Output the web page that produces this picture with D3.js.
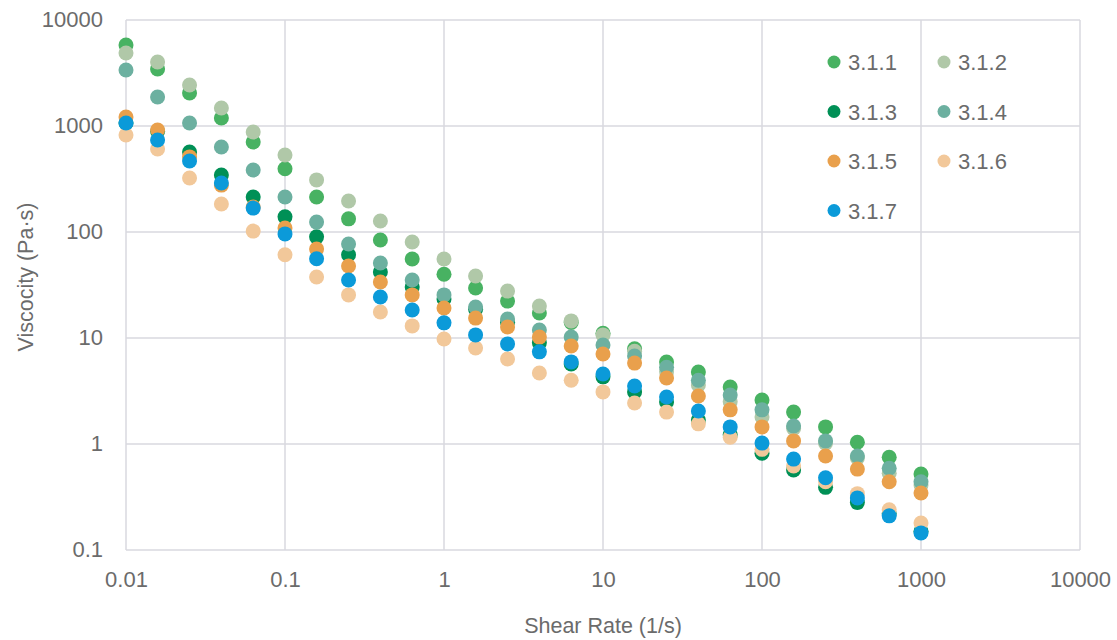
<!DOCTYPE html>
<html lang="en">
<head>
  <meta charset="UTF-8">
  <title>Viscosity vs Shear Rate</title>
  <script src="https://d3js.org/d3.v7.min.js"></script>
  <style>
    body { margin: 0; background: #fff; }
    text { font-family: "Liberation Sans", Arial, sans-serif; fill: #6b6b6b; }
  </style>
</head>
<body>
<div id="chart"></div>
<script>
// shear rate (1/s), 5 points per decade
const shearRate = [0.01, 0.0158, 0.0251, 0.0398, 0.0631, 0.1, 0.158, 0.251, 0.398, 0.631,
  1, 1.58, 2.51, 3.98, 6.31, 10, 15.8, 25.1, 39.8, 63.1, 100, 158, 251, 398, 631, 1000];

// viscosity (Pa·s) per sample
const s311 = [5810, 3450, 2050, 1190, 706, 395, 214, 133, 84, 55.6, 40, 29.6, 22.3, 17.2, 14, 11.1, 7.9, 5.94, 4.78, 3.45, 2.6, 2.0, 1.45, 1.04, 0.75, 0.52];
const s312 = [4890, 4020, 2440, 1480, 877, 532, 310, 196, 127, 80.5, 55.6, 38.5, 27.7, 20, 14.5, 10.7, 7.5, 4.8, 3.6, 2.5, 1.8, 1.4, 1.02, 0.74, 0.53, 0.41];
const s313 = [1067, 890, 569, 345, 214, 139, 90, 61, 42, 30.3, 23.3, 18.7, 14.1, 9.0, 5.7, 4.3, 3.1, 2.49, 1.68, 1.22, 0.82, 0.57, 0.39, 0.28, 0.22, 0.15];
const s314 = [3370, 1880, 1067, 634, 385, 214, 124, 77, 51, 35.2, 25.5, 19.6, 15.1, 11.9, 10.2, 8.6, 6.76, 5.3, 4.0, 2.9, 2.1, 1.48, 1.07, 0.77, 0.59, 0.44];
const s315 = [1217, 916, 511, 277, 172, 109, 69, 47.8, 33.8, 25.5, 19.2, 15.4, 12.7, 10.2, 8.4, 7.06, 5.8, 4.2, 2.84, 2.1, 1.45, 1.07, 0.77, 0.58, 0.44, 0.345];
const s316 = [822, 607, 323, 184, 102, 61, 37.6, 25.5, 17.6, 13.0, 9.8, 8.05, 6.34, 4.68, 4.0, 3.1, 2.44, 2.0, 1.55, 1.16, 0.89, 0.62, 0.44, 0.34, 0.24, 0.18];
const s317 = [1067, 738, 468, 290, 168, 96, 56, 35.2, 24.4, 18.4, 13.9, 10.7, 8.8, 7.4, 5.95, 4.57, 3.52, 2.78, 2.05, 1.45, 1.02, 0.72, 0.48, 0.31, 0.21, 0.145];

const seriesNames = ["3.1.1", "3.1.2", "3.1.3", "3.1.4", "3.1.5", "3.1.6", "3.1.7"];
const seriesValues = [s311, s312, s313, s314, s315, s316, s317];
const seriesColors = ["#48b262", "#b0c8a8", "#009056", "#6cb0a0", "#e9a04c", "#f2c89a", "#0b9ad9"];

const xTicks = [0.01, 0.1, 1, 10, 100, 1000, 10000];
const yTicks = [0.1, 1, 10, 100, 1000, 10000];

const W = 1117, H = 640;
const m = { left: 126, right: 37, top: 20, bottom: 90 };

const svg = d3.select("#chart").append("svg")
  .attr("width", W)
  .attr("height", H);

const x = d3.scaleLog().domain([0.01, 10000]).range([m.left, W - m.right]);
const y = d3.scaleLog().domain([0.1, 10000]).range([H - m.bottom, m.top]);

// grid
const grid = svg.append("g").attr("stroke", "#d9d9df").attr("stroke-width", 1.5);
grid.selectAll(".gx").data(xTicks).enter().append("line")
  .attr("x1", d => x(d)).attr("x2", d => x(d))
  .attr("y1", m.top).attr("y2", H - m.bottom);
grid.selectAll(".gy").data(yTicks).enter().append("line")
  .attr("y1", d => y(d)).attr("y2", d => y(d))
  .attr("x1", m.left).attr("x2", W - m.right);

// axes (labels only, no tick marks)
const fmt = d => d3.format("~g")(d);
const xAxis = svg.append("g")
  .attr("transform", "translate(0," + (H - m.bottom) + ")")
  .call(d3.axisBottom(x).tickValues(xTicks).tickFormat(fmt).tickSize(0).tickPadding(21));
const yAxis = svg.append("g")
  .attr("transform", "translate(" + m.left + ",0)")
  .call(d3.axisLeft(y).tickValues(yTicks).tickFormat(fmt).tickSize(0).tickPadding(23));
[xAxis, yAxis].forEach(a => {
  a.select(".domain").remove();
  a.selectAll("text").style("font-size", "22px").attr("fill", "#6b6b6b")
    .style("font-family", "'Liberation Sans', Arial, sans-serif");
});
yAxis.selectAll("text").attr("dy", "0.3em");

// points, later series on top
seriesValues.forEach((vals, k) => {
  svg.append("g").selectAll("circle")
    .data(vals.map((v, i) => ({ x: shearRate[i], y: v })))
    .enter().append("circle")
    .attr("cx", d => x(d.x))
    .attr("cy", d => y(d.y))
    .attr("r", 7.5)
    .attr("fill", seriesColors[k]);
});

// axis titles
svg.append("text")
  .attr("x", 603)
  .attr("y", 633)
  .attr("text-anchor", "middle")
  .style("font-size", "21.5px")
  .text("Shear Rate (1/s)");
svg.append("text")
  .attr("transform", "translate(33,277) rotate(-90)")
  .attr("text-anchor", "middle")
  .style("font-size", "21.5px")
  .text("Viscocity (Pa·s)");

// legend, two columns
const legend = svg.append("g");
seriesNames.forEach((name, k) => {
  const col = k % 2, row = Math.floor(k / 2);
  const lx = 834 + col * 110, ly = 62 + row * 49.5;
  legend.append("circle").attr("cx", lx).attr("cy", ly).attr("r", 6.5).attr("fill", seriesColors[k]);
  legend.append("text").attr("x", lx + 14).attr("y", ly + 8)
    .style("font-size", "22px").text(name);
});
</script>
</body>
</html>
